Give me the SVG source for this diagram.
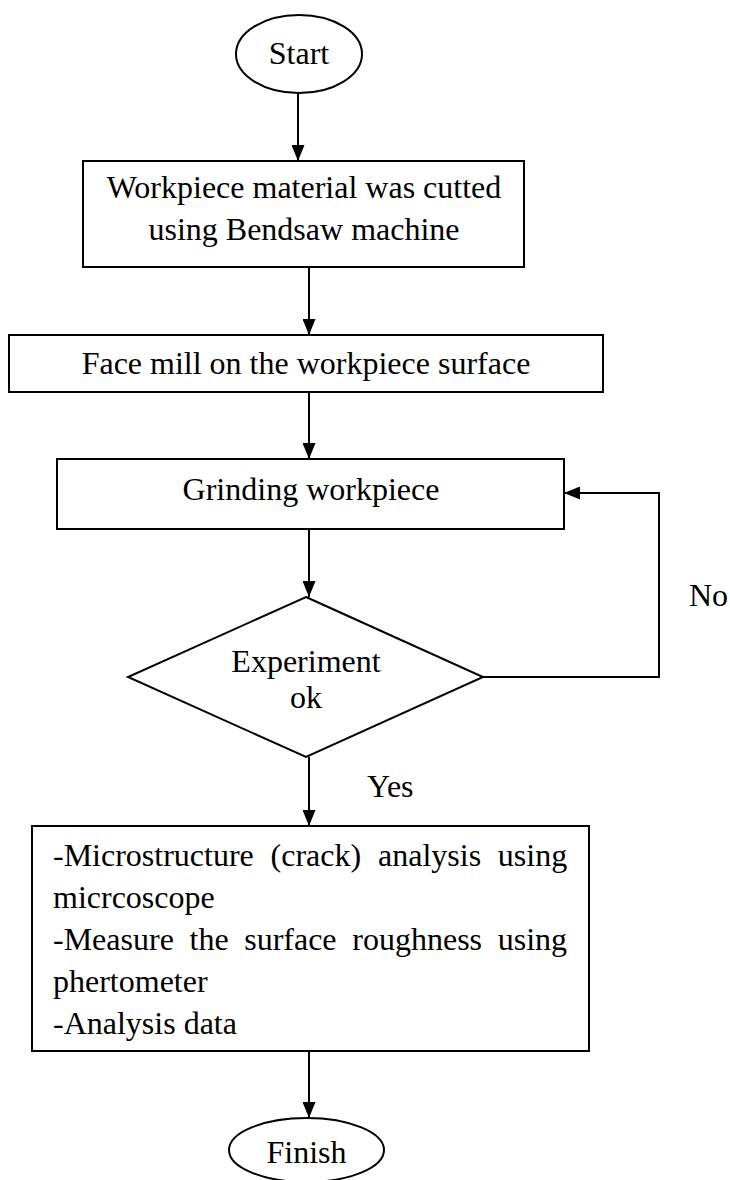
<svg xmlns="http://www.w3.org/2000/svg" width="730" height="1180" viewBox="0 0 730 1180">
<defs>
<style>
.s{fill:#fff;stroke:#000;stroke-width:2}
.t{font-family:"Liberation Serif","Times New Roman",serif;font-size:32px;fill:#000}
.c{text-anchor:middle}
.l{fill:none;stroke:#000;stroke-width:2}
</style>
<marker id="ah" markerWidth="16" markerHeight="13" refX="16" refY="6.5" viewBox="0 0 16 13" orient="auto" markerUnits="userSpaceOnUse">
<path d="M0,0 L16,6.5 L0,13 Z" fill="#000"/>
</marker>
</defs>
<rect width="730" height="1180" fill="#fff"/>
<g id="connectors">
<line class="l" x1="298" y1="93" x2="298" y2="161" marker-end="url(#ah)"/>
<line class="l" x1="309" y1="267" x2="309" y2="335" marker-end="url(#ah)"/>
<line class="l" x1="309" y1="392" x2="309" y2="459" marker-end="url(#ah)"/>
<line class="l" x1="309" y1="529" x2="309" y2="597" marker-end="url(#ah)"/>
<polyline class="l" points="483,677 659,677 659,493 564,493" marker-end="url(#ah)"/>
<line class="l" x1="309" y1="757" x2="309" y2="826" marker-end="url(#ah)"/>
<line class="l" x1="309" y1="1051" x2="309" y2="1118" marker-end="url(#ah)"/>
<text class="t" x="689" y="606">No</text>
<text class="t" x="367" y="797">Yes</text>
</g>
<g id="start">
<ellipse class="s" cx="299" cy="54" rx="63" ry="39"/>
<text class="t c" x="299" y="64">Start</text>
</g>
<g id="cut">
<rect class="s" x="83" y="161" width="441" height="106"/>
<text class="t c" x="304" y="198">Workpiece material was cutted</text>
<text class="t c" x="304" y="240">using Bendsaw machine</text>
</g>
<g id="facemill">
<rect class="s" x="9" y="335" width="594" height="57"/>
<text class="t c" x="306" y="374">Face mill on the workpiece surface</text>
</g>
<g id="grinding">
<rect class="s" x="57" y="459" width="507" height="70"/>
<text class="t c" x="311" y="500">Grinding workpiece</text>
</g>
<g id="decision">
<polygon class="s" points="306,597 483,677 306,757 128,677"/>
<text class="t c" x="306" y="672">Experiment</text>
<text class="t c" x="306" y="708">ok</text>
</g>
<g id="analysis">
<rect class="s" x="32" y="826" width="557" height="225"/>
<text class="t" y="866"><tspan x="53">-Microstructure</tspan><tspan x="270.6">(crack)</tspan><tspan x="378">analysis</tspan><tspan x="497.8">using</tspan></text>
<text class="t" x="53" y="908">micrcoscope</text>
<text class="t" y="950"><tspan x="53">-Measure</tspan><tspan x="189.5">the</tspan><tspan x="244.2">surface</tspan><tspan x="352.3">roughness</tspan><tspan x="497.7">using</tspan></text>
<text class="t" x="53" y="992">phertometer</text>
<text class="t" x="53" y="1034">-Analysis data</text>
</g>
<g id="finish">
<ellipse class="s" cx="306.5" cy="1150" rx="77.5" ry="32"/>
<text class="t c" x="306.5" y="1163">Finish</text>
</g>
</svg>
